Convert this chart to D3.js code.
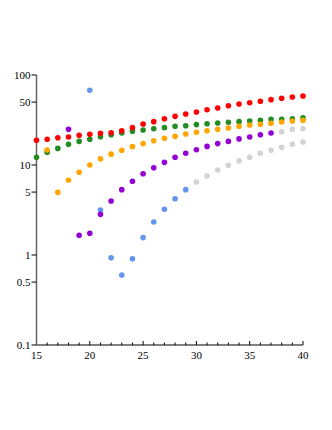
<!DOCTYPE html>
<html><head><meta charset="utf-8">
<script src="https://cdn.jsdelivr.net/npm/d3@7"></script>
<style>body{margin:0;background:#fff}</style>
</head><body><svg id="c" width="332" height="430"></svg>
<script>
const xTicks = [15, 20, 25, 30, 35, 40];
const yTicks = [0.1, 0.5, 1, 5, 10, 50, 100];
const yTickLabels = ["0.1", "0.5", "1", "5", "10", "50", "100"];

const redX = d3.range(15, 41);
const redY = [18.8,19.3,20.1,20.5,21.4,21.9,22.5,22.8,24.0,26.0,28.5,30.3,32.7,34.7,36.9,38.8,41.1,43.0,45.6,47.6,49.2,51.0,53.2,55.1,57.0,58.4];
const greenX = d3.range(15, 41);
const greenY = [12.2,13.9,15.3,17.0,18.3,19.3,20.6,21.7,22.7,23.7,24.5,25.3,26.0,26.9,27.3,28.1,28.7,29.3,29.8,30.3,30.8,31.4,32.2,32.2,32.7,33.5];
const orangeX = d3.range(16, 41);
const orangeY = [14.7,4.97,6.76,8.3,10.0,11.7,13.2,14.6,16.0,17.3,18.6,19.8,20.8,22.1,23.1,24.0,24.9,25.8,26.9,27.8,28.3,29.1,30.0,30.8,31.4];
const purpleX = d3.range(18, 38);
const purpleY = [24.9,1.66,1.74,2.83,3.98,5.32,6.59,8.0,9.33,10.7,12.2,13.5,14.8,16.1,17.3,18.3,19.5,20.5,21.7,22.7];
const blueX = d3.range(20, 30);
const blueY = [67.6,3.16,0.93,0.60,0.91,1.56,2.33,3.22,4.22,5.32];
const grayX = d3.range(30, 41);
const grayY = [6.47,7.55,8.8,9.93,11.1,12.2,13.5,14.6,15.7,17.0,18.0];
const gray2X = [38, 39, 40];
const gray2Y = [23.4,24.9,25.3];

const FONT = "'Liberation Serif', 'Times New Roman', serif";
const svg = d3.select("#c");
const x = d3.scaleLinear().domain([15, 40]).range([36.5, 303]);
const y = d3.scaleLog().domain([0.1, 100]).range([345, 75]);

// x axis with minor ticks
const gx = svg.append("g").attr("transform", "translate(0,345)");
gx.append("line").attr("x1", x(15)).attr("x2", x(40)).attr("stroke", "#000").attr("stroke-width", 1);
gx.selectAll(".mt").data(d3.range(15, 41)).join("line")
  .attr("x1", d => x(d)).attr("x2", d => x(d))
  .attr("y1", 0).attr("y2", d => xTicks.includes(d) ? -4 : -2.5)
  .attr("stroke", "#000").attr("stroke-width", 1);
gx.selectAll("text").data(xTicks).join("text")
  .attr("x", d => x(d)).attr("y", 14).attr("text-anchor", "middle")
  .attr("font-family", FONT).attr("font-size", 11).attr("fill", "#000").text(d => d);

// y axis
const gy = svg.append("g");
gy.append("line").attr("x1", x(15)).attr("x2", x(15)).attr("y1", y(0.1)).attr("y2", y(100)).attr("stroke", "#666").attr("stroke-width", 1.5);
gy.selectAll(".yt").data(yTicks).join("line")
  .attr("x1", x(15) - 5).attr("x2", x(15)).attr("y1", d => y(d)).attr("y2", d => y(d))
  .attr("stroke", "#000").attr("stroke-width", 1);
gy.selectAll("text").data(yTicks).join("text")
  .attr("x", x(15) - 6).attr("y", d => y(d)).attr("dy", "0.35em")
  .attr("text-anchor", "end")
  .attr("font-family", FONT).attr("font-size", 11).attr("fill", "#000").text((d, i) => yTickLabels[i]);

const series = [
  {xs: grayX, ys: grayY, c: "#d3d3d3"},
  {xs: gray2X, ys: gray2Y, c: "#d3d3d3"},
  {xs: blueX, ys: blueY, c: "#6495ed"},
  {xs: purpleX, ys: purpleY, c: "#9400d3"},
  {xs: greenX, ys: greenY, c: "#228b22"},
  {xs: redX, ys: redY, c: "#ff0000"},
  {xs: orangeX, ys: orangeY, c: "#ffa500"}
];
series.forEach(s => {
  svg.append("g").selectAll("circle").data(s.xs.map((v, i) => [v, s.ys[i]])).join("circle")
    .attr("cx", d => x(d[0])).attr("cy", d => y(d[1])).attr("r", 2.8).attr("fill", s.c);
});
</script></body></html>
